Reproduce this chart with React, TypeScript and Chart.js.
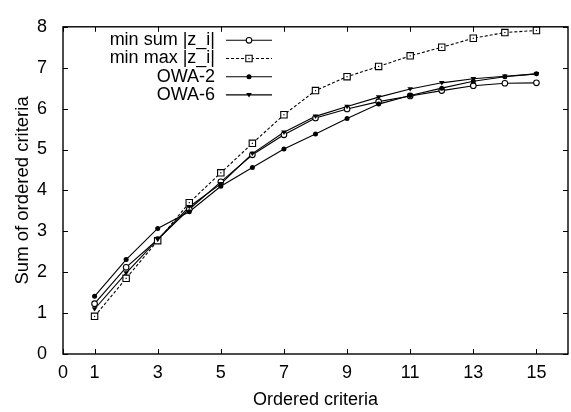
import React, { useEffect, useRef } from "react";
import { Chart, registerables } from "chart.js";

Chart.register(...registerables);

const criteria = [1, 2, 3, 4, 5, 6, 7, 8, 9, 10, 11, 12, 13, 14, 15];
const minSum = [1.23, 2.12, 2.8, 3.54, 4.21, 4.87, 5.36, 5.77, 5.99, 6.17, 6.31, 6.44, 6.56, 6.62, 6.63];
const minMax = [0.92, 1.85, 2.77, 3.7, 4.43, 5.15, 5.85, 6.44, 6.78, 7.03, 7.29, 7.5, 7.72, 7.86, 7.91];
const owa2 = [1.41, 2.31, 3.07, 3.48, 4.1, 4.56, 5.01, 5.38, 5.76, 6.11, 6.32, 6.5, 6.67, 6.78, 6.85];
const owa6 = [1.1, 1.98, 2.8, 3.6, 4.16, 4.9, 5.42, 5.81, 6.05, 6.28, 6.48, 6.63, 6.73, 6.79, 6.85];
const seriesLabels = ["min sum |z_i|", "min max |z_i|", "OWA-2", "OWA-6"];
const xTicks = [0, 1, 3, 5, 7, 9, 11, 13, 15];
const yTicks = [0, 1, 2, 3, 4, 5, 6, 7, 8];
const xTitle = "Ordered criteria";
const yTitle = "Sum of ordered criteria";

const FONT = '"Liberation Sans", Arial, sans-serif';

type Marker = "openCircle" | "openSquare" | "filledCircle" | "filledTriangle";
const markers: Marker[] = ["openCircle", "openSquare", "filledCircle", "filledTriangle"];
const dashes: number[][] = [[], [3, 2], [], []];

function drawMarker(ctx: CanvasRenderingContext2D, m: Marker, x: number, y: number) {
  ctx.save();
  ctx.setLineDash([]);
  ctx.lineWidth = 1.1;
  ctx.strokeStyle = "#000";
  ctx.fillStyle = "#000";
  ctx.beginPath();
  if (m === "openCircle") {
    ctx.arc(x, y, 2.8, 0, Math.PI * 2);
    ctx.fillStyle = "#fff";
    ctx.fill();
    ctx.stroke();
  } else if (m === "openSquare") {
    ctx.rect(x - 3.2, y - 3.2, 6.4, 6.4);
    ctx.fillStyle = "#fff";
    ctx.fill();
    ctx.stroke();
    ctx.fillStyle = "#000";
    ctx.fillRect(x - 0.6, y - 0.6, 1.2, 1.2);
  } else if (m === "filledCircle") {
    ctx.arc(x, y, 2.5, 0, Math.PI * 2);
    ctx.fill();
  } else {
    ctx.moveTo(x - 2.8, y - 1.8);
    ctx.lineTo(x + 2.8, y - 1.8);
    ctx.lineTo(x, y + 2.6);
    ctx.closePath();
    ctx.fill();
  }
  ctx.restore();
}

const framePlugin = {
  id: "frameTicks",
  afterDatasetsDraw(chart: any) {
    const { ctx, chartArea } = chart;
    const xs = chart.scales.x;
    const ys = chart.scales.y;
    const { left, right, top, bottom } = chartArea;
    ctx.save();
    ctx.strokeStyle = "#000";
    ctx.lineWidth = 1;
    ctx.setLineDash([]);
    const tl = 5;
    ctx.beginPath();
    xTicks.forEach((v) => {
      const px = Math.round(xs.getPixelForValue(v)) + 0.5;
      ctx.moveTo(px, bottom);
      ctx.lineTo(px, bottom - tl);
      ctx.moveTo(px, top);
      ctx.lineTo(px, top + tl);
    });
    yTicks.forEach((v) => {
      const py = Math.round(ys.getPixelForValue(v)) + 0.5;
      ctx.moveTo(left, py);
      ctx.lineTo(left + tl, py);
      ctx.moveTo(right, py);
      ctx.lineTo(right - tl, py);
    });
    ctx.stroke();
    ctx.lineWidth = 1.4;
    ctx.strokeRect(left, top, right - left, bottom - top);
    ctx.restore();
  },
};

const legendPlugin = {
  id: "gnuLegend",
  afterDraw(chart: any) {
    const { ctx, chartArea } = chart;
    const textRight = chartArea.left + 152;
    const lineStart = chartArea.left + 163;
    const lineEnd = chartArea.left + 209;
    const y0 = chartArea.top + 13.5;
    const dy = 18.2;
    ctx.save();
    ctx.font = "18px " + FONT;
    ctx.textAlign = "right";
    ctx.textBaseline = "middle";
    ctx.fillStyle = "#000";
    seriesLabels.forEach((lab, i) => {
      const y = y0 + i * dy;
      ctx.fillText(lab, textRight, y);
      ctx.beginPath();
      ctx.lineWidth = 1.1;
      ctx.strokeStyle = "#000";
      ctx.setLineDash(dashes[i]);
      ctx.moveTo(lineStart, y);
      ctx.lineTo(lineEnd, y);
      ctx.stroke();
      ctx.setLineDash([]);
      drawMarker(ctx, markers[i], (lineStart + lineEnd) / 2, y);
    });
    ctx.restore();
  },
};

const markerPlugin = {
  id: "markers",
  afterDatasetsDraw(chart: any) {
    const { ctx } = chart;
    chart.data.datasets.forEach((ds: any, i: number) => {
      const meta = chart.getDatasetMeta(i);
      meta.data.forEach((pt: any) => drawMarker(ctx, markers[i], pt.x, pt.y));
    });
  },
};

export default function App() {
  const ref = useRef<HTMLCanvasElement | null>(null);
  useEffect(() => {
    document.body.style.margin = "0";
    const seriesValues = [minSum, minMax, owa2, owa6];
    const chart = new Chart(ref.current as HTMLCanvasElement, {
      type: "line",
      data: {
        datasets: seriesValues.map((vals, i) => ({
          label: seriesLabels[i],
          data: criteria.map((c, j) => ({ x: c, y: vals[j] })),
          borderColor: "#000",
          borderWidth: 1.1,
          borderDash: dashes[i],
          pointRadius: 0,
          fill: false,
          tension: 0,
        })),
      },
      options: {
        animation: false,
        responsive: false,
        layout: { padding: { top: 13, right: 3, left: 0, bottom: 0 } },
        plugins: { legend: { display: false }, tooltip: { enabled: false } },
        scales: {
          x: {
            type: "linear",
            min: 0,
            max: 16,
            grid: { display: false, drawTicks: false },
            border: { display: false },
            afterBuildTicks: (s: any) => {
              s.ticks = xTicks.map((v) => ({ value: v }));
            },
            afterFit: (s: any) => {
              s.height = 58;
            },
            ticks: { color: "#000", font: { family: FONT, size: 18 }, padding: 8, maxRotation: 0, autoSkip: false },
            title: { display: true, text: xTitle, color: "#000", font: { family: FONT, size: 18 }, padding: { top: 0, bottom: 1 } },
          },
          y: {
            type: "linear",
            min: 0,
            max: 8,
            grid: { display: false, drawTicks: false },
            border: { display: false },
            afterBuildTicks: (s: any) => {
              s.ticks = yTicks.map((v) => ({ value: v }));
            },
            afterFit: (s: any) => {
              s.width = 63;
            },
            ticks: { color: "#000", font: { family: FONT, size: 18 }, padding: 16 },
            title: { display: true, text: yTitle, color: "#000", font: { family: FONT, size: 18.5 }, padding: { top: 12, bottom: 0 } },
          },
        },
      } as any,
      plugins: [framePlugin, markerPlugin, legendPlugin],
    });
    return () => chart.destroy();
  }, []);
  return (
    <div style={{ width: 571, height: 412, background: "#fff" }}>
      <canvas ref={ref} width={571} height={412} />
    </div>
  );
}
